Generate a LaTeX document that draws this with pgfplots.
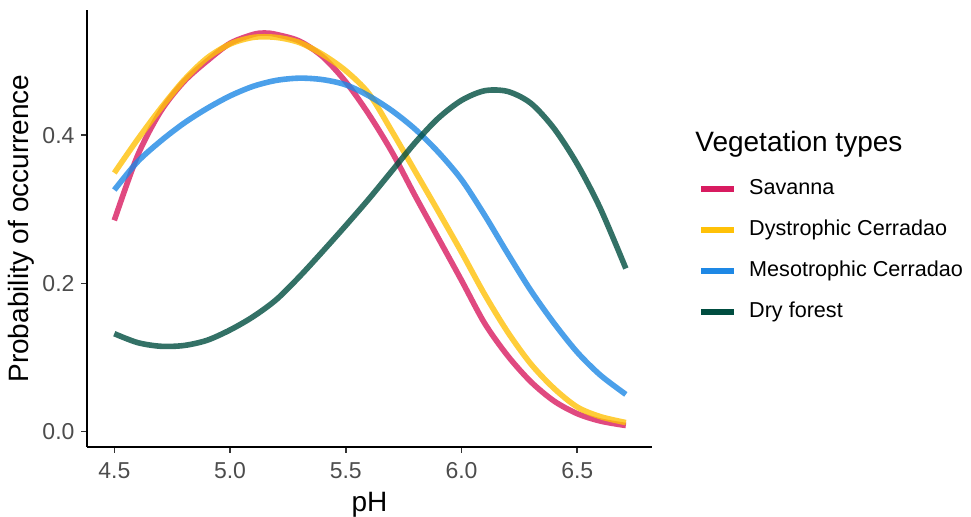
\documentclass[border=0pt]{standalone}
\usepackage{fontspec}
\setmainfont{Liberation Sans}
\usepackage{pgfplots}
\pgfplotsset{compat=1.18}
\definecolor{savanna}{HTML}{D81B60}
\definecolor{dystro}{HTML}{FFC107}
\definecolor{meso}{HTML}{1E88E5}
\definecolor{dryforest}{HTML}{004D40}

\begin{document}
\begin{tikzpicture}
\begin{axis}[
    name=ax,
    scale only axis,
    width=282.5bp,
    height=218.5bp,
    xmin=4.382, xmax=6.823,
    ymin=-0.021, ymax=0.569,
    axis lines=left,
    axis line style={-, line width=0.8bp, black},
    xtick={4.5,5,5.5,6,6.5},
    ytick={0,0.2,0.4},
    /pgf/number format/.cd, fixed, fixed zerofill, precision=1, assume math mode=true,
    /pgfplots/.cd,
    tick align=outside,
    major tick length=2.75bp,
    tick style={line width=0.8bp, black!80},
    ticklabel style={font=\fontsize{11.5bp}{13bp}\selectfont, text=black!70},
    xticklabel style={yshift=-1.5bp},
    xlabel={pH},
    ylabel={Probability of occurrence},
    every axis x label/.style={at={(axis description cs:0.5,0)}, anchor=base,
        yshift=-32.3bp, font=\fontsize{14bp}{16bp}\selectfont},
    every axis y label/.style={at={(axis description cs:-0.1044,0.5)}, anchor=base,
        rotate=90, font=\fontsize{14bp}{16bp}\selectfont},
    clip=false,
    legend cell align=left,
    legend style={
        at={(axis description cs:1.0814,0.6145)},
        anchor=north west,
        draw=none, fill=none, inner sep=0pt,
        row sep=10bp, column sep=6.2bp,
        font=\fontsize{10.8bp}{13bp}\selectfont,
        nodes={inner sep=0pt, text height=8bp, text depth=2.5bp}
    },
    legend image code/.code={\draw[line width=3bp] (0bp,0bp) -- (16.2bp,0bp);},
    legend image post style={opacity=1},
    every axis plot/.append style={line width=2.8bp, opacity=0.8, smooth, no markers}
]
% Savanna
\addplot[savanna] coordinates {
    (4.50,0.285) (4.60,0.372) (4.70,0.432) (4.80,0.472) (4.90,0.500)
    (5.00,0.524) (5.10,0.536) (5.15,0.538) (5.20,0.536) (5.30,0.527)
    (5.40,0.506) (5.50,0.472) (5.60,0.428) (5.70,0.377) (5.80,0.318)
    (5.90,0.261) (6.00,0.204) (6.10,0.146) (6.20,0.102) (6.30,0.067)
    (6.40,0.041) (6.50,0.024) (6.60,0.014) (6.71,0.008)
};
% Dystrophic Cerradao
\addplot[dystro] coordinates {
    (4.50,0.349) (4.60,0.394) (4.70,0.436) (4.80,0.474) (4.90,0.504)
    (5.00,0.523) (5.10,0.532) (5.20,0.532) (5.30,0.525) (5.40,0.509)
    (5.50,0.487) (5.60,0.456) (5.70,0.405) (5.80,0.351) (5.90,0.297)
    (6.00,0.242) (6.10,0.185) (6.20,0.134) (6.30,0.091) (6.40,0.058)
    (6.50,0.033) (6.60,0.020) (6.71,0.012)
};
% Mesotrophic Cerradao
\addplot[meso] coordinates {
    (4.50,0.326) (4.60,0.364) (4.70,0.392) (4.80,0.416) (4.90,0.436)
    (5.00,0.453) (5.10,0.466) (5.20,0.474) (5.30,0.477) (5.40,0.475)
    (5.50,0.468) (5.60,0.453) (5.70,0.433) (5.80,0.408) (5.90,0.377)
    (6.00,0.340) (6.10,0.292) (6.20,0.240) (6.30,0.190) (6.40,0.146)
    (6.50,0.107) (6.60,0.076) (6.71,0.050)
};
% Dry forest
\addplot[dryforest] coordinates {
    (4.50,0.132) (4.60,0.120) (4.70,0.115) (4.80,0.116) (4.90,0.123)
    (5.00,0.137) (5.10,0.155) (5.20,0.178) (5.30,0.209) (5.40,0.243)
    (5.50,0.278) (5.60,0.314) (5.70,0.352) (5.80,0.390) (5.90,0.423)
    (6.00,0.447) (6.10,0.460) (6.20,0.459) (6.30,0.443)
    (6.40,0.409) (6.50,0.361) (6.60,0.301) (6.71,0.220)
};
\legend{Savanna, Dystrophic Cerradao, Mesotrophic Cerradao, Dry forest}
\node[anchor=base west, inner sep=0pt, font=\fontsize{14bp}{16bp}\selectfont]
    at (axis description cs:1.0761,0.6773) {Vegetation types};
\end{axis}
\pgfresetboundingbox
\path[use as bounding box] ([shift={(-43.5bp,-35bp)}]ax.south west)
    rectangle ([shift={(442bp,223.5bp)}]ax.south west);
\end{tikzpicture}
\end{document}
